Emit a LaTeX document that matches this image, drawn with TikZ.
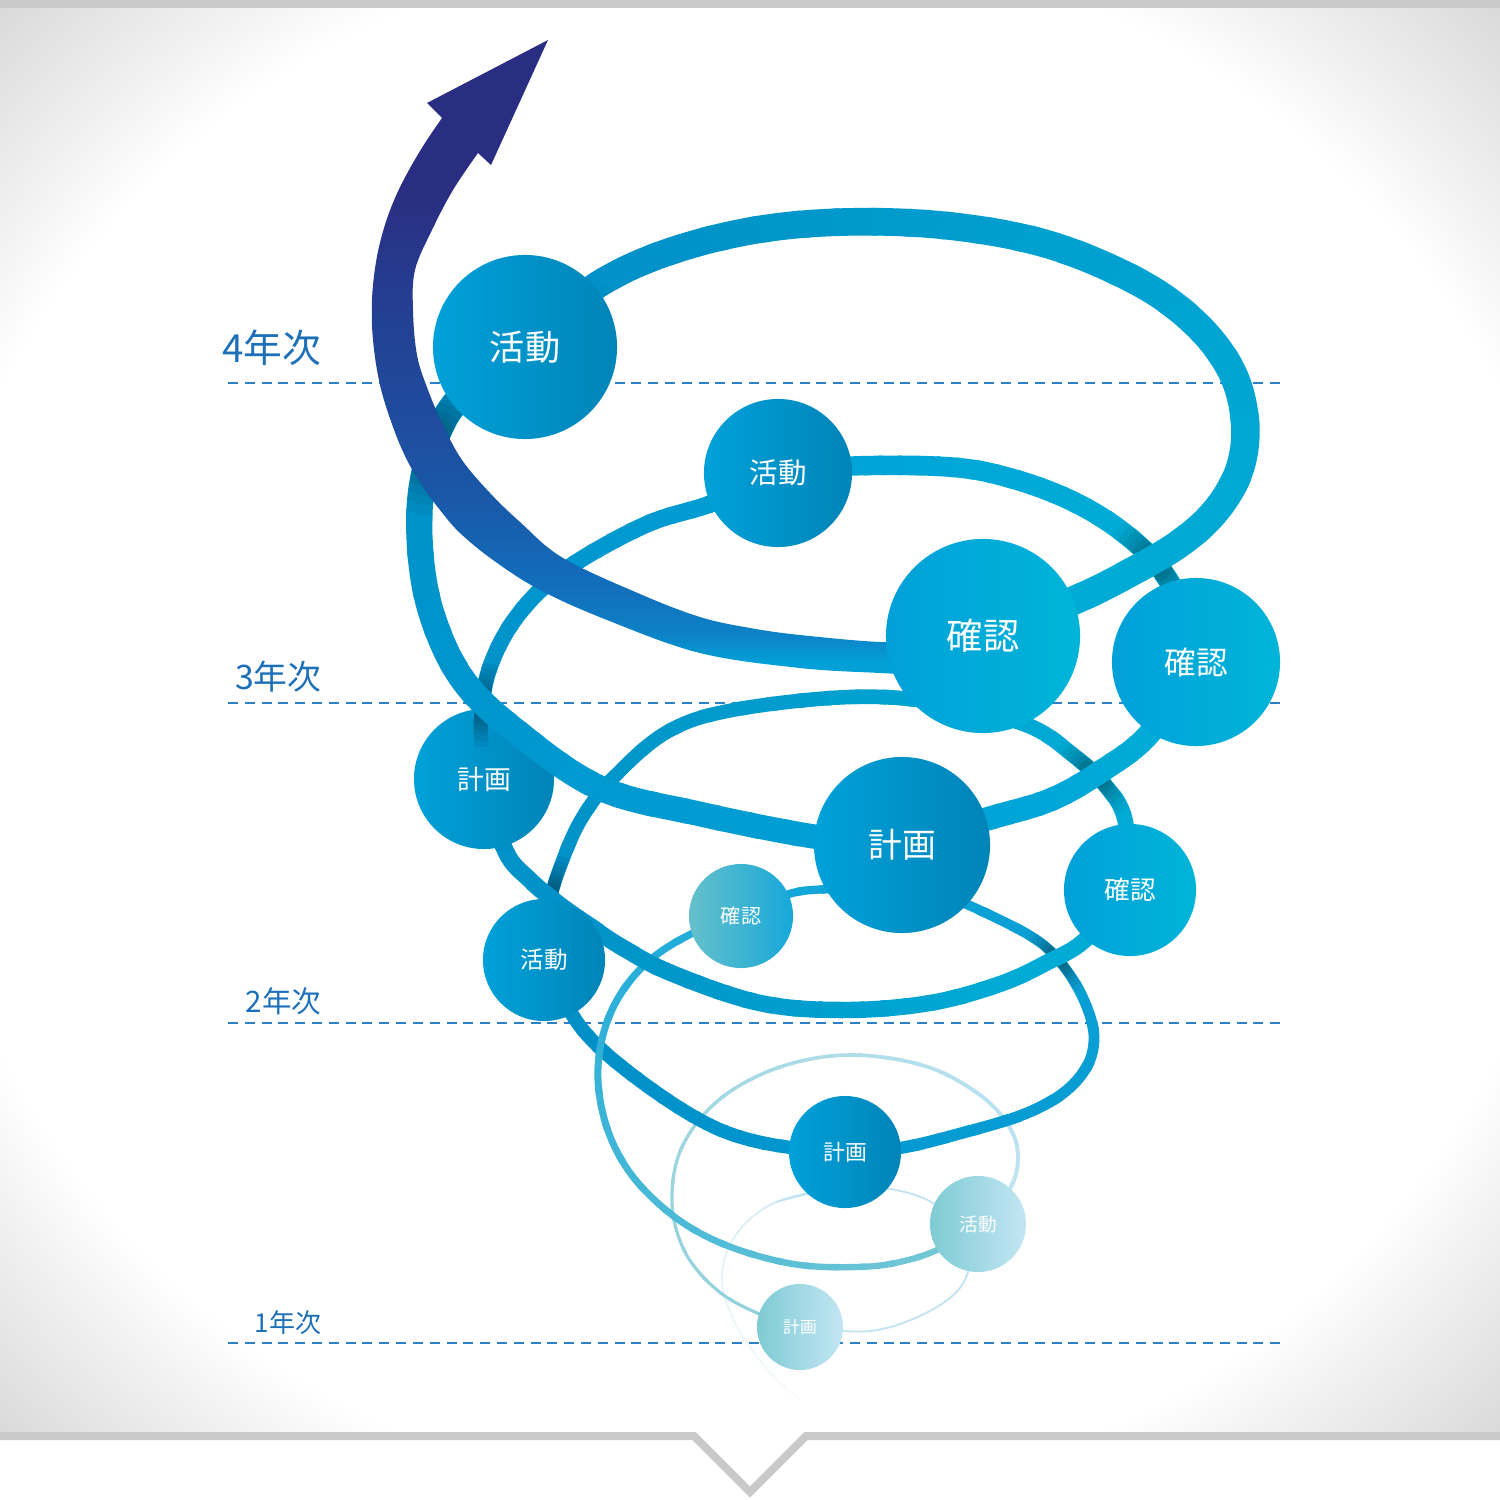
\documentclass[tikz,border=0pt]{standalone}
\usepackage{fontspec}
\newfontfamily\jpfont{Noto Sans CJK JP}
\definecolor{wisp}{HTML}{F6FBFD}
\definecolor{mist}{HTML}{C2E4F2}
\definecolor{paleteal}{HTML}{8CCED9}
\definecolor{pastel}{HTML}{C4E6F4}
\definecolor{seafoam}{HTML}{7ECBD4}
\definecolor{tealgrey}{HTML}{66C0CB}
\definecolor{aqua}{HTML}{16A8DA}
\definecolor{azure}{HTML}{00A0D6}
\definecolor{ocean}{HTML}{0098D0}
\definecolor{deepsea}{HTML}{008EC6}
\definecolor{lagoon}{HTML}{00B0D8}
\definecolor{brightcyan}{HTML}{00B4D8}
\definecolor{circleft}{HTML}{00A1D9}
\definecolor{marine}{HTML}{0084B8}
\definecolor{yearblue}{HTML}{1C6FB8}
\definecolor{dashblue}{HTML}{2C80C6}
\definecolor{framegray}{HTML}{C9C9C9}
\definecolor{arrcyan}{HTML}{02A0D7}
\definecolor{arrsky}{HTML}{0C84C8}
\definecolor{arrmid}{HTML}{1172BE}
\definecolor{arrblue}{HTML}{1468B6}
\definecolor{arrroyal}{HTML}{1A58A8}
\definecolor{arrdusk}{HTML}{1F4C9E}
\definecolor{arrindigo}{HTML}{243F92}
\definecolor{arrnavy}{HTML}{2A2E82}
\colorlet{midaqua}{aqua!45!ocean}
\colorlet{nearlagoon}{lagoon!85!deepsea}
\colorlet{neardeep}{deepsea!85!azure}
\pgfdeclareradialshading{vignette}{\pgfpoint{0bp}{0bp}}{color(0bp)=(white); color(27.5bp)=(white); color(30bp)=(black!5); color(32.8bp)=(black!10); color(35.5bp)=(black!15); color(40bp)=(black!19); color(50bp)=(black!19)}
\pgfdeclareverticalshading{arrowshade}{100bp}{color(0bp)=(arrcyan); color(26bp)=(arrcyan); color(28bp)=(arrsky); color(31bp)=(arrmid); color(34bp)=(arrblue); color(39bp)=(arrroyal); color(45bp)=(arrdusk); color(54bp)=(arrindigo); color(63bp)=(arrnavy); color(100bp)=(arrnavy)}
% centre x, centre y, first angle, last angle, colours, widths (px), coordinates
\newcommand{\gradpiece}[9]{%
  \foreach \gk in {0,...,23} {
    \pgfmathsetmacro\ga{#3+(#4-#3)*\gk/24}
    \pgfmathsetmacro\gb{#3+(#4-#3)*(\gk+1.2)/24}
    \pgfmathsetmacro\gp{100*(\gk+0.5)/24}
    \pgfmathsetlengthmacro\gw{(#7+(#8-#7)*(\gk+0.5)/24)*0.1mm}
    \colorlet{gcol}{#6!\gp!#5}
    \begin{scope}
      \clip (#1,#2) -- +(\ga:2500) -- +(\gb:2500) -- cycle;
      \draw[gcol, line width=\gw] plot[smooth, tension=0.6] coordinates {#9};
    \end{scope}
  }}
% centre x, centre y, radius, base colour, width (px), coordinates
\newcommand{\crossshadow}[6]{%
  \foreach \ff/\kk in {1/4, 0.86/9, 0.73/14, 0.61/19, 0.5/24, 0.4/29, 0.3/33} {
    \begin{scope}
      \clip (#1,#2) circle[radius=\ff*#3*0.1mm];
      \draw[black!\kk!#4, line width=#5*0.1mm] plot[smooth, tension=0.6] coordinates {#6};
    \end{scope}
  }}

\begin{document}
\begin{tikzpicture}[x=0.01cm, y=-0.01cm,
  stepnode/.style 2 args={circle, inner sep=0pt, minimum size=#1, text=white,
    font=\jpfont\fontsize{#2}{#2}\selectfont},
  yearlabel/.style={anchor=east, inner sep=0pt, text=yearblue},
  yearrule/.style={dashblue, line width=0.25mm, dash pattern=on 1mm off 0.68mm}
]
  % canvas and frame
  \useasboundingbox (0,0) rectangle (1500,1500);
  \fill[white] (0,0) rectangle (1500,1500);
  \shade[shading=vignette] (0,8) rectangle (1500,1433);
  \fill[framegray] (0,0) rectangle (1500,8);
  \draw[framegray, line width=0.8mm] (-10,1436) -- (694,1436) -- (750,1492) -- (806,1436) -- (1510,1436);

  % year rules
  \foreach \ly/\ry/\yr/\fs in {348/383/4/11, 677/703/3/9.6, 1001/1023/2/8.4, 1323/1343/1/7.4} {
    \node[yearlabel, font=\jpfont\fontsize{\fs}{\fs}\selectfont] (year\yr) at (322,\ly) {\yr 年次};
    \coordinate (rule\yr west) at (228,\ry);
    \coordinate (rule\yr east) at (1280,\ry);
    \draw[yearrule] (rule\yr west) -- (rule\yr east);
  }

  % stops of the spiral
  \coordinate (plan1) at (800,1327);  \coordinate (act1) at (978,1224);  \coordinate (check1) at (741,916);
  \coordinate (plan2) at (845,1152);  \coordinate (act2) at (544,960);   \coordinate (check2) at (1130,890);
  \coordinate (plan3) at (484,779);   \coordinate (act3) at (778,473);   \coordinate (check3) at (1196,662);
  \coordinate (plan4) at (902,845);   \coordinate (act4) at (525,347);   \coordinate (check4) at (983,636);

  % year 1
  \gradpiece{845}{1262}{100}{275}{wisp}{mist}{1}{1.8}{(800,1400) (768,1370) (737,1327) (722,1280) (735,1236) (776,1202) (845,1187) (880,1188)}
  \draw[mist, line width=0.18mm] plot[smooth, tension=0.6] coordinates {(776,1202) (845,1187) (905,1192) (946,1212) (970,1246) (962,1285) (926,1313) (870,1331) (plan1)};
  \gradpiece{845}{1190}{100}{380}{paleteal}{pastel}{3}{4}{(plan1) (757,1313) (717,1290) (685,1252) (672,1202) (682,1147) (720,1099) (780,1067) (850,1055) (925,1066) (980,1095) (1010,1128) (1018,1160) (1008,1192) (act1)}
  \gradpiece{843}{980}{84}{190}{ocean}{deepsea}{13}{14}{(plan2) (787,1147) (740,1137) (700,1120) (650,1088) (600,1048) (571,1013) (act2)}
  \gradpiece{843}{1080}{40}{245}{seafoam}{aqua}{6}{7.5}{(act1) (937,1250) (895,1263) (856,1267) (800,1265) (745,1252) (698,1232) (660,1205) (628,1170) (607,1128) (598,1080) (603,1035) (620,995) (650,960) (693,933) (check1)}
  \gradpiece{843}{1030}{222}{455}{aqua}{ocean}{7.5}{13}{(check1) (789,894) (830,889) (885,888) (940,895) (990,915) (1041,943) (1070,975) (1088,1010) (1094,1040) (1086,1068) (1062,1094) (1022,1115) (962,1133) (900,1148) (plan2)}

  % year 2
  \gradpiece{845}{880}{160}{368}{deepsea}{lagoon}{13}{16}{(act2) (549,905) (562,862) (582,818) (613,778) (667,732) (733,710) (850,697) (940,703) (1027,725) (1073,755) (1105,785) (1125,820) (check2)}
  \gradpiece{800}{760}{171}{271}{deepsea}{azure}{15}{18}{(plan3) (481,720) (490,667) (518,615) (565,570) (645,525) (713,503) (act3)}
  \crossshadow{552}{895}{40}{deepsea}{12}{(act2) (549,905) (562,862) (582,818) (613,778) (667,732)}
  \crossshadow{1058}{958}{38}{midaqua}{9}{(990,915) (1041,943) (1070,975) (1088,1010) (1094,1040)}
  \gradpiece{845}{860}{0}{198}{lagoon}{deepsea}{16}{17}{(check2) (1085,940) (1048,962) (1000,984) (930,1003) (845,1010) (760,1003) (671,973) (620,946) (590,926) (560,905) (530,880) (505,850) (plan3)}

  % year 3
  \node[stepnode={14mm}{7.6pt}, left color=circleft, right color=marine] (plan3n) at (plan3) {計画};
  \crossshadow{483}{705}{42}{deepsea}{14}{(plan3) (481,720) (490,667) (518,615) (565,570)}
  \gradpiece{720}{560}{52}{233}{azure}{deepsea}{24}{27}{(plan4) (817,837) (700,814) (600,788) (517,732) (463,680) (432,615) (420,547) (423,480) (445,418) (475,385) (act4)}
  \crossshadow{1094}{776}{45}{nearlagoon}{14}{(940,703) (1027,725) (1073,755) (1105,785) (1125,820) (check2)}
  \gradpiece{1000}{650}{-3}{122}{lagoon}{azure}{22}{24}{(check3) (1150,733) (1100,772) (1050,800) (987,819) (plan4)}
  \gradpiece{900}{640}{228}{370}{azure}{lagoon}{19}{21}{(act3) (852,466) (950,467) (1010,478) (1070,500) (1120,530) (1160,568) (1185,615) (check3)}
  \crossshadow{1155}{562}{50}{nearlagoon}{19}{(1010,478) (1070,500) (1120,530) (1160,568) (1185,615) (check3)}

  % year 4 and the way out
  \gradpiece{880}{420}{186}{430}{deepsea}{lagoon}{27}{29}{(act4) (590,290) (660,255) (750,231) (845,222) (950,226) (1050,245) (1140,283) (1197,325) (1232,372) (1245,422) (1240,468) (1218,508) (1183,541) (1135,570) (1075,600) (check4)}
  \crossshadow{432}{445}{70}{neardeep}{25}{(517,732) (463,680) (432,615) (420,547) (423,480) (445,418) (475,385) (act4)}
  \shade[shading=arrowshade]
    plot[smooth, tension=0.6] coordinates {(925,640) (880,642) (800,635) (750,628) (700,617) (640,594) (563,558) (520,522) (490,493) (462,460) (443,425) (428,390) (417,355) (413,310) (415,270) (432,230) (453,190) (478,153)}
    -- (491,165) -- (548,40) -- (427,103) -- (442,118)
    -- plot[smooth, tension=0.6] coordinates {(442,118) (425,143) (409,170) (395,198) (384,228) (376,262) (372,300) (373,340) (380,385) (393,427) (407,460) (423,487) (440,510) (460,533) (493,560) (540,590) (607,620) (700,653) (800,668) (880,673) (925,675)}
    -- cycle;

  % stops
  \node[stepnode={8.6mm}{4.8pt}, left color=seafoam, right color=pastel] (plan1n) at (plan1) {計画};
  \node[stepnode={9.6mm}{5.3pt}, left color=seafoam, right color=pastel] (act1n) at (act1) {活動};
  \node[stepnode={10.4mm}{5.7pt}, left color=tealgrey, right color=aqua] (check1n) at (check1) {確認};
  \node[stepnode={11.2mm}{6.2pt}, left color=circleft, right color=marine] (plan2n) at (plan2) {計画};
  \node[stepnode={12.2mm}{6.7pt}, left color=circleft, right color=marine] (act2n) at (act2) {活動};
  \node[stepnode={13.2mm}{7.3pt}, left color=circleft, right color=brightcyan] (check2n) at (check2) {確認};
  \node[stepnode={14.8mm}{8.1pt}, left color=circleft, right color=marine] (act3n) at (act3) {活動};
  \node[stepnode={16.8mm}{9pt}, left color=circleft, right color=brightcyan] (check3n) at (check3) {確認};
  \node[stepnode={17.6mm}{9.6pt}, left color=circleft, right color=marine] (plan4n) at (plan4) {計画};
  \node[stepnode={18.4mm}{10pt}, left color=circleft, right color=marine] (act4n) at (act4) {活動};
  \node[stepnode={19.4mm}{10.3pt}, left color=circleft, right color=brightcyan] (check4n) at (check4) {確認};
\end{tikzpicture}
\end{document}
